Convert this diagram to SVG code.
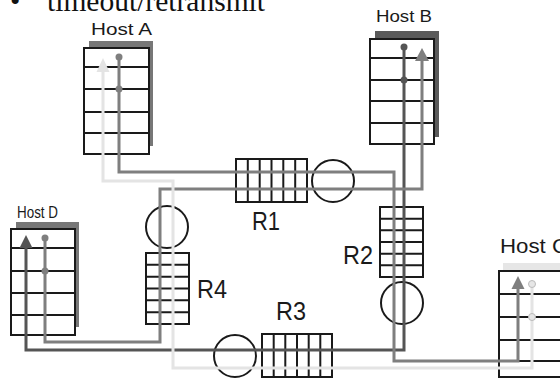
<svg xmlns="http://www.w3.org/2000/svg" width="560" height="379" viewBox="0 0 560 379">
<style>
.tbl{fill:#fff;stroke:#1a1a1a;stroke-width:2}
.row{stroke:#1a1a1a;stroke-width:2}
.rt{fill:none;stroke:#1a1a1a;stroke-width:2}
.lbl{font-family:"Liberation Sans",Arial,sans-serif;fill:#1a1a1a}
.hl{font-size:16px}
.rl{font-size:25px}
.fl{fill:none;stroke-width:3;stroke-linejoin:miter}
.dark{stroke:#555}
.gray{stroke:#7f7f7f}
.light{stroke:#e4e4e4}
</style>
<text x="10" y="11" font-family="Liberation Serif,serif" font-size="29.5" fill="#111">•</text>
<text x="47" y="11" font-family="Liberation Serif,serif" font-size="29.5" fill="#111" textLength="218" lengthAdjust="spacingAndGlyphs">timeout/retransmit</text>

<g id="hostA">
<rect x="89" y="41" width="64" height="105" fill="#777"/>
<rect class="tbl" x="84" y="48" width="65" height="106"/>
<path class="row" d="M84 67H149M84 89H149M84 112H149M84 133H149"/>
<text class="lbl hl" x="91" y="35" textLength="61" lengthAdjust="spacingAndGlyphs">Host A</text>
</g>
<g id="hostB">
<rect x="375" y="31" width="64" height="106" fill="#5a5a5a"/>
<rect class="tbl" x="370" y="39" width="64" height="105"/>
<path class="row" d="M370 58H434M370 80H434M370 101H434M370 123H434"/>
<text class="lbl hl" x="376" y="22" textLength="56" lengthAdjust="spacingAndGlyphs">Host B</text>
</g>
<g id="hostD">
<rect x="16" y="222" width="63" height="105" fill="#777"/>
<rect class="tbl" x="11" y="229" width="64" height="106"/>
<path class="row" d="M11 248H75M11 271H75M11 293H75M11 315H75"/>
<text class="lbl hl" x="17" y="218" textLength="41" lengthAdjust="spacingAndGlyphs">Host D</text>
</g>
<g id="hostC">
<rect x="503" y="263" width="64" height="106" fill="#e6e6e6"/>
<rect class="tbl" x="499" y="271" width="64" height="106"/>
<path class="row" d="M499 294H563M499 317H563M499 340H563M499 361H563"/>
<text class="lbl" x="500" y="253" font-size="20" textLength="68" lengthAdjust="spacingAndGlyphs">Host C</text>
</g>

<g id="R1">
<rect class="rt" x="236" y="159" width="71" height="43"/>
<path class="rt" d="M247.8 159V202M259.7 159V202M271.5 159V202M283.3 159V202M295.2 159V202"/>
<circle class="rt" cx="333" cy="181" r="21"/>
<text class="lbl rl" x="252" y="230" textLength="28" lengthAdjust="spacingAndGlyphs">R1</text>
</g>
<g id="R2">
<rect class="rt" x="380" y="207" width="43" height="70"/>
<path class="rt" d="M380 218.7H423M380 230.3H423M380 242H423M380 253.7H423M380 265.3H423"/>
<circle class="rt" cx="402" cy="303" r="21"/>
<text class="lbl rl" x="343" y="264" textLength="30" lengthAdjust="spacingAndGlyphs">R2</text>
</g>
<g id="R3">
<rect class="rt" x="262" y="334" width="70" height="43"/>
<path class="rt" d="M273.7 334V377M285.3 334V377M297 334V377M308.7 334V377M320.3 334V377"/>
<circle class="rt" cx="235" cy="356" r="21"/>
<text class="lbl rl" x="276" y="320" textLength="30" lengthAdjust="spacingAndGlyphs">R3</text>
</g>
<g id="R4">
<rect class="rt" x="146" y="253" width="43" height="71"/>
<path class="rt" d="M146 264.8H189M146 276.7H189M146 288.5H189M146 300.3H189M146 312.2H189"/>
<circle class="rt" cx="167" cy="227" r="21"/>
<text class="lbl rl" x="197" y="298" textLength="30" lengthAdjust="spacingAndGlyphs">R4</text>
</g>

<g id="connectors">
<path class="fl dark" d="M404 47V350H26V247"/>
<path class="fl gray" d="M119 57V172H394V361H518V288"/>
<path class="fl gray" d="M45 238V342H160V189H422V60"/>
<path class="fl light" d="M532 284V368H173V181H103V71"/>
<polygon points="103,58 96.5,72 109.5,72" fill="#e4e4e4"/>
<polygon points="422,48 415,61 429,61" fill="#7f7f7f"/>
<polygon points="26,235 19.5,248 32.5,248" fill="#555"/>
<polygon points="518,276 511.5,289 524.5,289" fill="#7f7f7f"/>
<circle cx="119" cy="57" r="3.5" fill="#7f7f7f"/>
<circle cx="119" cy="89" r="3.5" fill="#7f7f7f"/>
<circle cx="404" cy="47" r="3.5" fill="#555"/>
<circle cx="404" cy="80" r="3.5" fill="#555"/>
<circle cx="45" cy="238" r="3.5" fill="#7f7f7f"/>
<circle cx="45" cy="271" r="3.5" fill="#7f7f7f"/>
<circle cx="532" cy="284" r="3.5" fill="#e6e6e6" stroke="#bbb" stroke-width="1"/>
<circle cx="532" cy="317" r="3.5" fill="#e6e6e6" stroke="#bbb" stroke-width="1"/>
</g>
</svg>
